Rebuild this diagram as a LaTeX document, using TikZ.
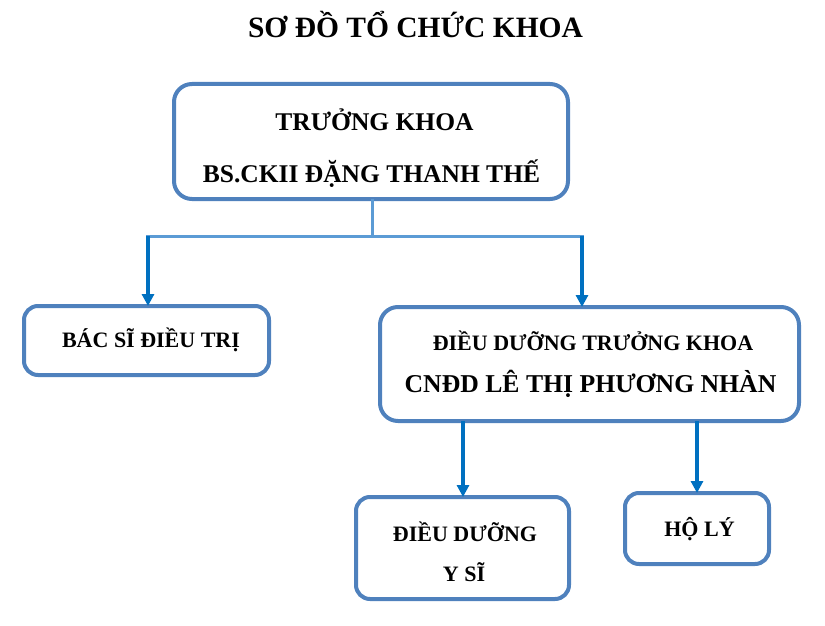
\documentclass[tikz,border=0pt]{standalone}
\usepackage{fontspec}
\setmainfont{Liberation Serif}
\usetikzlibrary{arrows.meta}
\definecolor{boxblue}{RGB}{79,129,189}
\definecolor{linkblue}{RGB}{91,155,213}
\definecolor{arrblue}{RGB}{0,112,192}
\tikzset{
  orgbox/.style={draw=boxblue, line width=4pt, rounded corners=18pt, inner sep=0pt, outer sep=0pt},
  smallbox/.style={orgbox, rounded corners=14pt},
  linkline/.style={draw=linkblue, line width=3pt},
  arrline/.style={draw=arrblue, line width=3.5pt, -{Triangle[width=12pt,length=12pt]}},
  txt/.style={anchor=base, inner sep=0pt, font=\bfseries\fontsize{#1}{#1}\selectfont},
}
\begin{document}
\begin{tikzpicture}[x=1pt,y=-1pt]
\useasboundingbox (0,0) rectangle (825,626);
% title
\node[txt=29.5] (title) at (415.5,38) {SƠ ĐỒ TỔ CHỨC KHOA};
% boxes
\node[orgbox, minimum width=394pt, minimum height=115pt] (top) at (371,141.5) {};
\node[smallbox, minimum width=245pt, minimum height=69pt] (left) at (146.5,340.5) {};
\node[orgbox, minimum width=419pt, minimum height=114pt] (right) at (589.5,364) {};
\node[smallbox, minimum width=213pt, minimum height=102pt] (ddys) at (462.5,548) {};
\node[smallbox, minimum width=144pt, minimum height=71pt] (holy) at (697,528.5) {};
% texts
\node[txt=25.5] (t1) at (374.5,130) {TRƯỞNG KHOA};
\node[txt=25.5] (t2) at (371.5,182) {BS.CKII ĐẶNG THANH THẾ};
\node[txt=22] (t3) at (151,347) {BÁC SĨ ĐIỀU TRỊ};
\node[txt=22] (t4) at (593,350) {ĐIỀU DƯỠNG TRƯỞNG KHOA};
\node[txt=25.7] (t5) at (590.5,392) {CNĐD LÊ THỊ PHƯƠNG NHÀN};
\node[txt=22] (t6) at (465,541) {ĐIỀU DƯỠNG};
\node[txt=22] (t7) at (464,581) {Y SĨ};
\node[txt=22] (t8) at (699.5,536) {HỘ LÝ};
% connectors
\coordinate (jm) at (372,236);
\coordinate (jl) at (148,236);
\coordinate (jr) at (582,236);
\draw[linkline] (top.south -| jm) -- (jm);
\draw[linkline] ([xshift=-1.75pt]jl) -- ([xshift=1.75pt]jr);
\draw[arrline] (jl) -- (jl |- left.north);
\draw[arrline] (jr) -- (jr |- right.north);
\coordinate (rb1) at (463,423);
\coordinate (rb2) at (697,423);
\draw[arrline] (right.south -| rb1) -- (rb1 |- ddys.north);
\draw[arrline] (right.south -| rb2) -- (rb2 |- holy.north);
\end{tikzpicture}
\end{document}
